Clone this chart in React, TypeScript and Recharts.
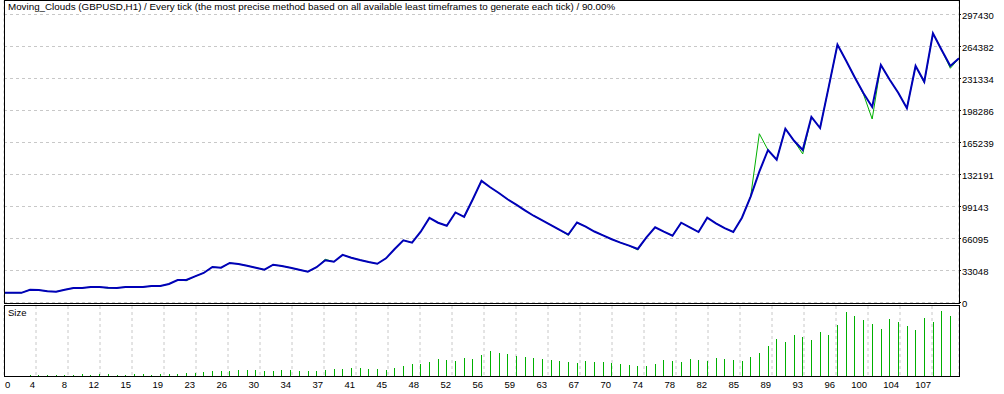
import { Bar, BarChart, CartesianGrid, Line, LineChart, XAxis, YAxis } from "recharts";

const TITLE =
  "Moving_Clouds (GBPUSD,H1) / Every tick (the most precise method based on all available least timeframes to generate each tick) / 90.00%";

// balance after each trade (index 0 = initial deposit)
const balance = [
  10000, 10000, 10000, 13200, 12900, 11600, 11200, 13200, 15000, 15000,
  16000, 16000, 15300, 15000, 16000, 16000, 16000, 17000, 17000, 19100,
  23200, 23200, 27000, 30500, 36700, 35900, 40800, 39800, 38000, 35900,
  33900, 39000, 37700, 35900, 33900, 31800, 36400, 43600, 42100, 49200,
  46300, 43900, 41800, 40000, 45600, 55300, 64200, 61800, 73100, 87400,
  82400, 79200, 93000, 88500, 106600, 125600, 119000, 113100, 106600, 101000,
  95200, 89600, 84900, 80000, 74900, 70200, 82600, 78300, 73300, 69300,
  65300, 61800, 58700, 55300, 67300, 77700, 73100, 69000, 82400, 77700,
  72800, 87600, 81800, 76900, 72800, 87600, 109300, 135100, 157500, 147500,
  179400, 167000, 157500, 191600, 180200, 222900, 266300, 249600, 232400, 216000,
  201900, 245300, 230300, 216600, 200600, 244300, 228000, 278000, 260800, 244300,
  252200,
];

// equity at each trade
const equity = [
  10000, 10000, 10000, 13200, 12900, 11600, 11200, 13200, 15000, 15000,
  16000, 16000, 14800, 15000, 16000, 16000, 16000, 17000, 17000, 19100,
  23200, 22500, 27000, 30500, 36700, 35900, 40800, 39800, 38000, 35900,
  33900, 39000, 37700, 35900, 33900, 31800, 36400, 44600, 42100, 49200,
  46300, 43900, 41800, 40000, 45600, 55300, 64200, 61800, 73100, 87400,
  82400, 79200, 93000, 88500, 106600, 125600, 119000, 113100, 106600, 101000,
  95200, 89600, 84900, 80000, 74900, 69400, 82600, 78300, 73300, 69300,
  65300, 61800, 58700, 54300, 67300, 77700, 73100, 69000, 82400, 77700,
  72800, 87600, 81800, 76900, 72800, 87600, 109300, 174300, 157500, 147500,
  179400, 167000, 153400, 191600, 180200, 222900, 266300, 249600, 232400, 215000,
  189500, 245300, 230300, 216600, 200600, 244300, 227000, 278000, 260800, 241900,
  252200,
];

// position size of each trade
const lots = [
  0, 0, 0, 0.03, 0.03, 0.03, 0.03, 0.03, 0.04, 0.06,
  0.03, 0.06, 0.07, 0.03, 0.03, 0.06, 0.06, 0.03, 0.06, 0.07,
  0.07, 0.09, 0.1, 0.13, 0.15, 0.16, 0.16, 0.18, 0.19, 0.19,
  0.16, 0.16, 0.18, 0.18, 0.16, 0.16, 0.16, 0.18, 0.21, 0.21,
  0.24, 0.24, 0.21, 0.21, 0.18, 0.24, 0.3, 0.36, 0.36, 0.42,
  0.51, 0.48, 0.45, 0.54, 0.51, 0.63, 0.75, 0.69, 0.66, 0.6,
  0.57, 0.54, 0.51, 0.48, 0.45, 0.42, 0.39, 0.45, 0.42, 0.42,
  0.39, 0.36, 0.33, 0.3, 0.3, 0.36, 0.48, 0.45, 0.42, 0.51,
  0.48, 0.45, 0.54, 0.51, 0.48, 0.45, 0.57, 0.69, 0.9, 1.11,
  1.02, 1.23, 1.17, 1.08, 1.32, 1.23, 1.53, 1.92, 1.8, 1.68,
  1.56, 1.41, 1.71, 1.62, 1.5, 1.38, 1.74, 1.62, 1.95, 1.8,
  1.65,
];

const xLabels = [
  "0", "4", "8", "12", "15", "19", "23", "26", "30", "34", "37", "41", "45", "48", "52",
  "56", "59", "63", "67", "70", "74", "78", "82", "85", "89", "93", "96", "100", "104", "107",
];
const yTicks = [0, 33048, 66095, 99143, 132191, 165239, 198286, 231334, 264382, 297430];

const W = 1004;
const H = 394;
const LEFT = 4;
const RIGHT = 959;
const TRADES = 110;
const GRID_PX = 32; // vertical grid every 32px
const Y_MAX = 311888;
const LOT_MAX = 2.1;

const FONT = '"Liberation Sans", Arial, sans-serif';
const GRID = "#c8c8c8";
const BLUE = "#0000b8";
const GREEN = "#00b000";

const gridTicks = xLabels.map((_, k) => (k * GRID_PX * TRADES) / (RIGHT - LEFT));

const data = balance.map((b, i) => ({ trade: i, balance: b, equity: equity[i], lots: lots[i] }));

function YTick({ x, y, payload }: any) {
  return (
    <text x={x} y={y} dy={4.5} fontSize={9.5} fontFamily={FONT} fill="#000" textAnchor="start">
      {payload.value}
    </text>
  );
}

function XTick({ x, y, index }: any) {
  const first = index === 0;
  return (
    <text
      x={first ? x + 1 : x - 1}
      y={y + 12}
      fontSize={9.5}
      fontFamily={FONT}
      fill="#000"
      textAnchor={first ? "start" : "end"}
    >
      {xLabels[index]}
    </text>
  );
}

export default function App() {
  return (
    <div style={{ position: "absolute", left: 0, top: 0, width: W, height: H, background: "#fff" }}>
      <div style={{ position: "absolute", left: 0, top: 0 }}>
        <LineChart width={W} height={312} data={data} margin={{ top: 0.5, right: 0, bottom: 9.5, left: LEFT }}>
          <CartesianGrid stroke={GRID} strokeDasharray="3 3" />
          <XAxis
            type="number"
            dataKey="trade"
            domain={[0, TRADES]}
            ticks={gridTicks}
            interval={0}
            height={0}
            tick={false}
            axisLine={false}
            tickLine={false}
          />
          <YAxis
            orientation="right"
            width={W - RIGHT}
            domain={[0, Y_MAX]}
            ticks={yTicks}
            interval={0}
            tick={<YTick />}
            tickSize={2}
            tickMargin={1}
            axisLine={false}
            tickLine={{ stroke: "#000" }}
          />
          <Line type="linear" dataKey="equity" stroke={GREEN} strokeWidth={1} dot={false} isAnimationActive={false} />
          <Line type="linear" dataKey="balance" stroke={BLUE} strokeWidth={2} dot={false} isAnimationActive={false} />
        </LineChart>
      </div>
      <div style={{ position: "absolute", left: 0, top: 305 }}>
        <BarChart width={W} height={89} data={data} margin={{ top: 1, right: W - RIGHT, bottom: 0, left: LEFT }}>
          <CartesianGrid stroke={GRID} strokeDasharray="3 3" horizontal={false} />
          <XAxis
            type="number"
            dataKey="trade"
            domain={[0, TRADES]}
            ticks={gridTicks}
            interval={0}
            height={18}
            tickSize={0}
            tickMargin={0}
            axisLine={false}
            tick={<XTick />}
          />
          <YAxis hide domain={[0, LOT_MAX]} />
          <Bar dataKey="lots" fill={GREEN} barSize={1} shapeRendering="crispEdges" isAnimationActive={false} />
        </BarChart>
      </div>
      <svg width={W} height={H} style={{ position: "absolute", left: 0, top: 0, pointerEvents: "none" }}>
        <rect x={4.5} y={0.5} width={955} height={303} fill="none" stroke="#000" />
        <rect x={4.5} y={305.5} width={955} height={71} fill="none" stroke="#000" />
        <text x={8} y={10} fontSize={9.8} fontFamily={FONT} fill="#000">
          {TITLE}
        </text>
        <text x={8} y={316} fontSize={9.5} fontFamily={FONT} fill="#000">
          Size
        </text>
      </svg>
    </div>
  );
}
